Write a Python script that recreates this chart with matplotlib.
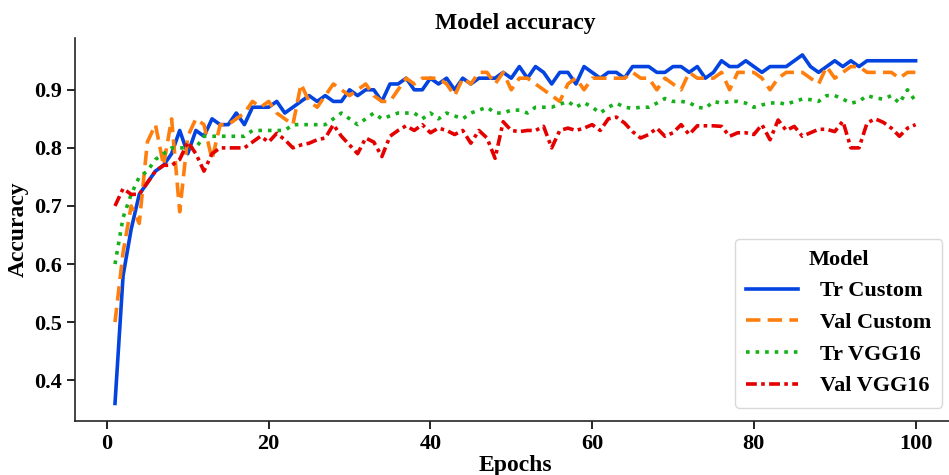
import matplotlib
matplotlib.use('Agg')
import matplotlib.pyplot as plt
import numpy as np

plt.rcParams.update({
    'font.family': 'Liberation Serif',
    'font.weight': 'bold',
    'axes.labelweight': 'bold',
    'axes.titleweight': 'bold',
    'axes.spines.top': False,
    'axes.spines.right': False,
})

BLUE   = '#0343df'
ORANGE = '#ff7f0e'
GREEN  = '#15b01a'
RED    = '#e50000'

epochs = np.arange(1, 101)

tr_custom = [
    0.36, 0.58, 0.66, 0.72, 0.74, 0.76, 0.77, 0.79, 0.83, 0.79,
    0.83, 0.82, 0.85, 0.84, 0.84, 0.86, 0.84, 0.87, 0.87, 0.87,
    0.88, 0.86, 0.87, 0.88, 0.89, 0.88, 0.89, 0.88, 0.88, 0.90,
    0.89, 0.90, 0.90, 0.88, 0.91, 0.91, 0.92, 0.90, 0.90, 0.92,
    0.91, 0.92, 0.90, 0.92, 0.91, 0.92, 0.92, 0.92, 0.93, 0.92,
    0.94, 0.92, 0.94, 0.93, 0.91, 0.93, 0.93, 0.91, 0.94, 0.93,
    0.92, 0.93, 0.93, 0.92, 0.94, 0.94, 0.94, 0.93, 0.93, 0.94,
    0.94, 0.93, 0.94, 0.92, 0.93, 0.95, 0.94, 0.94, 0.95, 0.94,
    0.93, 0.94, 0.94, 0.94, 0.95, 0.96, 0.94, 0.93, 0.94, 0.95,
    0.94, 0.95, 0.94, 0.95, 0.95, 0.95, 0.95, 0.95, 0.95, 0.95,
]
val_custom = [
    0.50, 0.62, 0.70, 0.67, 0.81, 0.84, 0.77, 0.85, 0.69, 0.82,
    0.85, 0.84, 0.78, 0.84, 0.84, 0.85, 0.86, 0.88, 0.87, 0.88,
    0.86, 0.85, 0.84, 0.91, 0.88, 0.87, 0.89, 0.91, 0.90, 0.89,
    0.90, 0.91, 0.89, 0.88, 0.88, 0.90, 0.92, 0.91, 0.92, 0.92,
    0.92, 0.91, 0.89, 0.92, 0.91, 0.93, 0.93, 0.91, 0.93, 0.90,
    0.92, 0.92, 0.91, 0.90, 0.89, 0.88, 0.91, 0.92, 0.90, 0.92,
    0.92, 0.92, 0.92, 0.92, 0.93, 0.92, 0.92, 0.90, 0.92, 0.91,
    0.90, 0.93, 0.92, 0.92, 0.92, 0.93, 0.90, 0.93, 0.93, 0.93,
    0.92, 0.90, 0.92, 0.93, 0.93, 0.93, 0.92, 0.91, 0.94, 0.92,
    0.93, 0.94, 0.94, 0.93, 0.93, 0.93, 0.93, 0.92, 0.93, 0.93,
]
tr_vgg = [
    0.60, 0.68, 0.72, 0.75, 0.76, 0.78, 0.79, 0.80, 0.80, 0.80,
    0.80, 0.82, 0.82, 0.82, 0.82, 0.82, 0.82, 0.83, 0.83, 0.83,
    0.83, 0.83, 0.84, 0.84, 0.84, 0.84, 0.84, 0.85, 0.86, 0.85,
    0.84, 0.85, 0.86, 0.85, 0.855, 0.86, 0.86, 0.86, 0.85, 0.86,
    0.85, 0.86, 0.855, 0.85, 0.86, 0.865, 0.87, 0.86, 0.86, 0.865,
    0.865, 0.86, 0.87, 0.87, 0.87, 0.875, 0.88, 0.87, 0.878, 0.87,
    0.86, 0.87, 0.877, 0.87, 0.868, 0.87, 0.87, 0.877, 0.885, 0.88,
    0.88, 0.878, 0.87, 0.868, 0.88, 0.877, 0.88, 0.88, 0.877, 0.87,
    0.874, 0.877, 0.878, 0.875, 0.88, 0.884, 0.883, 0.88, 0.89, 0.89,
    0.884, 0.877, 0.88, 0.89, 0.886, 0.884, 0.89, 0.877, 0.90, 0.88,
]
val_vgg = [
    0.70, 0.73, 0.72, 0.72, 0.74, 0.76, 0.77, 0.77, 0.78, 0.81,
    0.79, 0.76, 0.79, 0.80, 0.80, 0.80, 0.80, 0.81, 0.82, 0.81,
    0.825, 0.814, 0.80, 0.805, 0.808, 0.814, 0.817, 0.84, 0.82, 0.805,
    0.79, 0.817, 0.81, 0.785, 0.82, 0.83, 0.838, 0.83, 0.84, 0.826,
    0.834, 0.83, 0.823, 0.83, 0.808, 0.83, 0.817, 0.782, 0.845, 0.83,
    0.828, 0.83, 0.83, 0.837, 0.80, 0.83, 0.834, 0.83, 0.834, 0.84,
    0.83, 0.85, 0.853, 0.843, 0.828, 0.817, 0.823, 0.834, 0.82, 0.826,
    0.84, 0.823, 0.838, 0.838, 0.838, 0.837, 0.82, 0.826, 0.826, 0.823,
    0.84, 0.814, 0.848, 0.83, 0.837, 0.82, 0.826, 0.832, 0.832, 0.828,
    0.846, 0.80, 0.80, 0.843, 0.85, 0.844, 0.834, 0.82, 0.834, 0.84,
]

series = [
    ('Tr Custom',  tr_custom,  BLUE,   '-'),
    ('Val Custom', val_custom, ORANGE, (0, (4, 2))),
    ('Tr VGG16',   tr_vgg,     GREEN,  ':'),
    ('Val VGG16',  val_vgg,    RED,    (0, (3, 1.2, 1, 1.2))),
]

fig = plt.figure(figsize=(9.49, 4.75), dpi=100)
ax = fig.add_axes([0.079, 0.114, 0.928, 0.807])

for name, vals, col, ls in series:
    ax.plot(epochs, vals, color=col, linestyle=ls, lw=2.6, label=name)

ax.set_xticks([0, 20, 40, 60, 80, 100])
ax.set_yticks([0.4, 0.5, 0.6, 0.7, 0.8, 0.9])
ax.tick_params(axis='both', labelsize=16, length=6, width=1.2, direction='out')
for s in ('left', 'bottom'):
    ax.spines[s].set_linewidth(1.2)
    ax.spines[s].set_color('#262626')

ax.set_title('Model accuracy', fontsize=17, pad=6)
ax.set_xlabel('Epochs', fontsize=17, labelpad=1)
ax.set_ylabel('Accuracy', fontsize=17, labelpad=4)

leg = ax.legend(title='Model', loc='lower right', fontsize=16, title_fontsize=16,
                handlelength=2.3, handletextpad=1.0, frameon=True, fancybox=True,
                borderaxespad=0.6, labelspacing=0.5, borderpad=0.5)
leg.get_title().set_fontweight('bold')
leg.get_frame().set_edgecolor('#d0d0d0')

fig.savefig('out.png', dpi=100)
